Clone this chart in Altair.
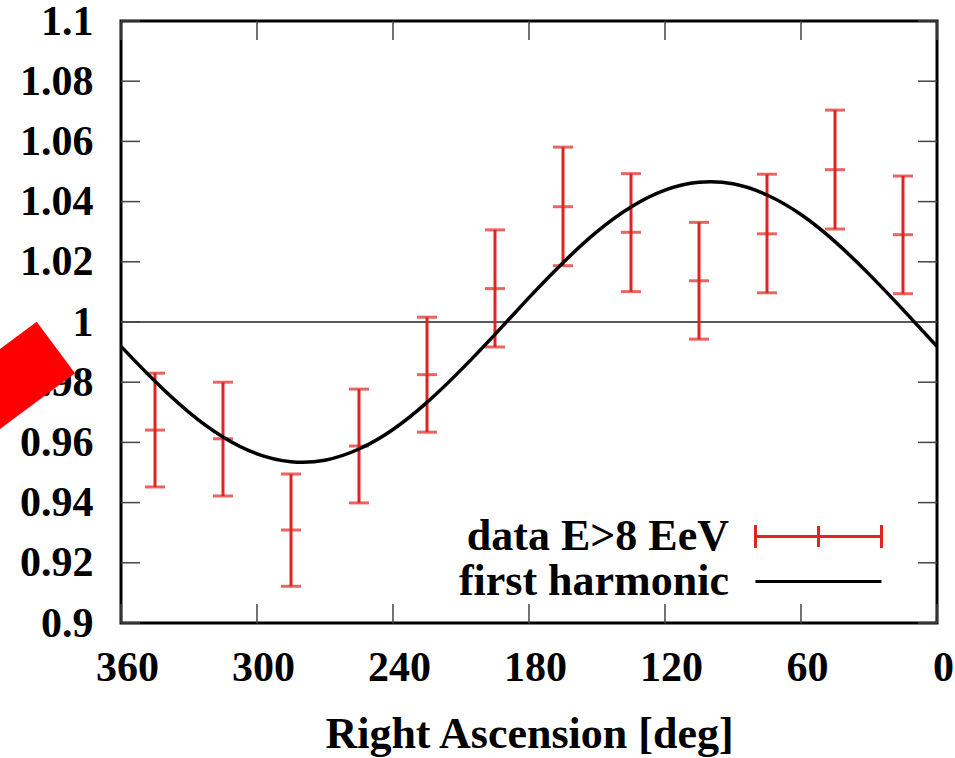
import altair as alt
import pandas as pd

# ---- data ----
series_names = ["data E>8 EeV", "first harmonic"]

ra = [345, 315, 285, 255, 225, 195, 165, 135, 105, 75, 45, 15]
val = [0.9641, 0.9612, 0.9309, 0.9588, 0.9825, 1.0111, 1.0383, 1.0298, 1.0137, 1.0293, 1.0506, 1.0290]
lo = [0.9452, 0.9422, 0.9122, 0.9399, 0.9634, 0.9917, 1.0187, 1.0101, 0.9943, 1.0097, 1.0309, 1.0094]
hi = [0.9830, 0.9800, 0.9495, 0.9777, 1.0016, 1.0306, 1.0581, 1.0493, 1.0331, 1.0491, 1.0704, 1.0485]

curve_ra = [0, 15, 30, 45, 60, 75, 90, 105, 120, 135, 150, 165, 180,
            195, 210, 225, 240, 255, 270, 285, 300, 315, 330, 345, 360]
curve_val = [0.9919, 1.0041, 1.0159, 1.0267, 1.0357, 1.0422, 1.0459, 1.0464, 1.0438,
             1.0382, 1.0300, 1.0197, 1.0081, 0.9959, 0.9841, 0.9733, 0.9643, 0.9578,
             0.9541, 0.9536, 0.9562, 0.9618, 0.9700, 0.9803, 0.9919]

x_ticks = [0, 60, 120, 180, 240, 300, 360]
y_ticks = [0.9, 0.92, 0.94, 0.96, 0.98, 1.0, 1.02, 1.04, 1.06, 1.08, 1.1]
ref_level = [1.0]

FONT = "Liberation Serif"
RED = "#de2520"
W, H = 816, 602
TICK = 19

pts = pd.DataFrame({"ra": ra, "val": val, "lo": lo, "hi": hi,
                    "series": [series_names[0]] * len(ra)})
curve = pd.DataFrame({"ra": curve_ra, "val": curve_val,
                      "series": [series_names[1]] * len(curve_ra)})
xt = pd.DataFrame({"ra": x_ticks})
yt = pd.DataFrame({"val": y_ticks})
ref = pd.DataFrame({"val": ref_level})

xscale = alt.Scale(domain=[0, 360], reverse=True, nice=False, zero=False)
yscale = alt.Scale(domain=[0.9, 1.1], nice=False, zero=False)
cscale = alt.Scale(domain=series_names, range=[RED, "black"])

xaxis = alt.Axis(values=x_ticks, title="Right Ascension [deg]", grid=False, ticks=False,
                 domain=False, labelFont=FONT, labelFontSize=42, labelFontWeight="bold",
                 labelColor="black", labelPadding=24, labelOffset=6, labelFlush=False,
                 labelOverlap=False, titleFont=FONT, titleFontSize=44, titleFontWeight="bold",
                 titleColor="black", titlePadding=24, format="d")
yaxis = alt.Axis(values=y_ticks, title=None, grid=False, ticks=False, domain=False,
                 labelFont=FONT, labelFontSize=42, labelFontWeight="bold",
                 labelColor="black", labelPadding=28, labelOverlap=False,
                 labelFlush=False, format=".3~f")

bar_path = "M-3,0L3,0M-3,-0.55L-3,0.55M3,-0.55L3,0.55M0,-0.5L0,0.5"
line_path = "M-3,0L3,0"
legend = alt.Legend(
    title=None, orient="none", legendX=564, legendY=493, padding=0,
    labelFont=FONT, labelFontSize=44, labelFontWeight="bold", labelColor="black",
    labelAlign="right", labelBaseline="middle", labelLimit=800,
    labelOffset=alt.ExprRef(expr="-112"),
    symbolOffset=111, symbolSize=1764, symbolStrokeWidth=3, rowPadding=0,
    symbolFillColor="transparent",
    symbolType=alt.ExprRef(expr=f"datum.value === '{series_names[1]}' ? '{line_path}' : '{bar_path}'"),
)

X = alt.X("ra:Q", scale=xscale, axis=xaxis)
Y = alt.Y("val:Q", scale=yscale, axis=yaxis)
C = alt.Color("series:N", scale=cscale, legend=legend)

hline = alt.Chart(ref).mark_rule(color="#222222", strokeWidth=1.5).encode(
    y=Y, x=alt.value(0), x2=alt.value(W))

bars = alt.Chart(pts).mark_rule(strokeWidth=3).encode(
    x=X, y=alt.Y("lo:Q", scale=yscale, axis=yaxis), y2="hi:Q", color=C)
caps_lo = alt.Chart(pts).mark_tick(orient="horizontal", size=20, thickness=3, color=RED).encode(
    x=X, y=alt.Y("lo:Q", scale=yscale, axis=yaxis))
caps_hi = alt.Chart(pts).mark_tick(orient="horizontal", size=20, thickness=3, color=RED).encode(
    x=X, y=alt.Y("hi:Q", scale=yscale, axis=yaxis))
centers = alt.Chart(pts).mark_tick(orient="horizontal", size=20, thickness=3, color=RED).encode(
    x=X, y=Y)

line = alt.Chart(curve).mark_line(strokeWidth=3.5, interpolate="natural").encode(
    x=X, y=Y, color=C)

tick_style = dict(color="#444444", strokeWidth=1.5)
bt = alt.Chart(xt).mark_rule(**tick_style).encode(x=X, y=alt.value(H), y2=alt.value(H - TICK))
tt = alt.Chart(xt).mark_rule(**tick_style).encode(x=X, y=alt.value(0), y2=alt.value(TICK))
lt = alt.Chart(yt).mark_rule(**tick_style).encode(y=Y, x=alt.value(0), x2=alt.value(TICK))
rt = alt.Chart(yt).mark_rule(**tick_style).encode(y=Y, x=alt.value(W), x2=alt.value(W - TICK))

# red rotated rectangle overlapping the y labels (decoration seen in the picture)
blot_shape = "M0,0L3.83,5.16L-6.6,12.9L-10.43,7.74Z"
blot = alt.Chart(pd.DataFrame({"k": [0]})).mark_point(
    shape=blot_shape, size=400, fill="#ff0000", filled=True, opacity=1, strokeWidth=0
).encode(x=alt.value(-84.3), y=alt.value(300.7))

chart = alt.layer(hline, bars, caps_lo, caps_hi, centers, line, bt, tt, lt, rt, blot).properties(
    width=W, height=H,
    autosize=alt.AutoSizeParams(type="none"),
    padding={"left": 121, "top": 21, "right": 18, "bottom": 135},
    background="white",
).configure_view(stroke="black", strokeWidth=3)

chart.save("out.html", embed_options={"renderer": "svg", "actions": False})
